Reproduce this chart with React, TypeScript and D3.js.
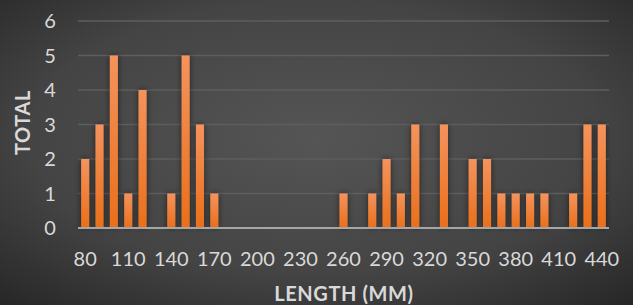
import React from 'react';
import * as d3 from 'd3';

const lengths = d3.range(80, 450, 10);
const totals = [2, 3, 5, 1, 4, 0, 1, 5, 3, 1, 0, 0, 0, 0, 0, 0, 0, 0, 1, 0, 1, 2, 1, 3, 0, 3, 0, 2, 2, 1, 1, 1, 1, 0, 1, 3, 3];
const xTickLabels = [80, 110, 140, 170, 200, 230, 260, 290, 320, 350, 380, 410, 440];
const yTicks = [0, 1, 2, 3, 4, 5, 6];

const App = () => {
    const width = 633;
    const height = 305;
    const margin = { left: 78, right: 24, top: 21, bottom: 77 };

    const x = d3.scaleBand<number>()
        .domain(lengths)
        .range([margin.left, width - margin.right])
        .paddingInner(0.44)
        .paddingOuter(0.22);

    const y = d3.scaleLinear()
        .domain([0, 6])
        .range([height - margin.bottom, margin.top]);

    const font = 'Lato, "Open Sans", sans-serif';
    const textColor = '#d9d9d9';

    return (
        <svg width={width} height={height} style={{ display: 'block', position: 'absolute', left: 0, top: 0 }}>
            <defs>
                <radialGradient id="bg" cx="0.5" cy="0.45" r="0.75">
                    <stop offset="0" stopColor="#555555" />
                    <stop offset="0.6" stopColor="#444444" />
                    <stop offset="1" stopColor="#262626" />
                </radialGradient>
                <linearGradient id="bar" x1="0" y1="0" x2="0" y2="1">
                    <stop offset="0" stopColor="#f4935d" />
                    <stop offset="1" stopColor="#ea6f1a" />
                </linearGradient>
                <filter id="shadow" x="-100%" y="-20%" width="300%" height="140%">
                    <feDropShadow dx="0" dy="0" stdDeviation="3" floodColor="#000" floodOpacity="0.55" />
                </filter>
            </defs>
            <rect width={width} height={height} fill="url(#bg)" />

            {yTicks.map(t => (
                <g key={t}>
                    {t > 0 && (
                        <line
                            x1={margin.left}
                            x2={width - margin.right}
                            y1={y(t)}
                            y2={y(t)}
                            stroke="#5e5e5e"
                            strokeWidth={1.5}
                        />
                    )}
                    <text
                        x={50}
                        y={y(t)}
                        dy="0.36em"
                        textAnchor="middle"
                        fontSize="20"
                        fontFamily={font}
                        fill={textColor}
                    >
                        {t}
                    </text>
                </g>
            ))}

            <g filter="url(#shadow)">
                {lengths.map((l, i) => totals[i] > 0 && (
                    <rect
                        key={l}
                        x={x(l)}
                        y={y(totals[i])}
                        width={x.bandwidth()}
                        height={y(0) - y(totals[i])}
                        fill="url(#bar)"
                    />
                ))}
            </g>

            <line
                x1={margin.left}
                x2={width - margin.right}
                y1={y(0)}
                y2={y(0)}
                stroke="#a6a6a6"
                strokeWidth={2}
            />

            {xTickLabels.map(l => (
                <text
                    key={l}
                    x={(x(l) ?? 0) + x.bandwidth() / 2}
                    y={258.5}
                    dy="0.36em"
                    textAnchor="middle"
                    fontSize="20"
                    fontFamily={font}
                    fill={textColor}
                >
                    {l}
                </text>
            ))}

            <text
                x={344}
                y={294}
                dy="0.36em"
                textAnchor="middle"
                fontSize="20"
                fontWeight="bold"
                letterSpacing="0.6"
                fontFamily={font}
                fill={textColor}
            >
                LENGTH (MM)
            </text>
            <text
                transform={`translate(22.5, 122.5) rotate(-90)`}
                dy="0.36em"
                textAnchor="middle"
                fontSize="20"
                fontWeight="bold"
                letterSpacing="0.6"
                fontFamily={font}
                fill={textColor}
            >
                TOTAL
            </text>
        </svg>
    );
};

export default App;
